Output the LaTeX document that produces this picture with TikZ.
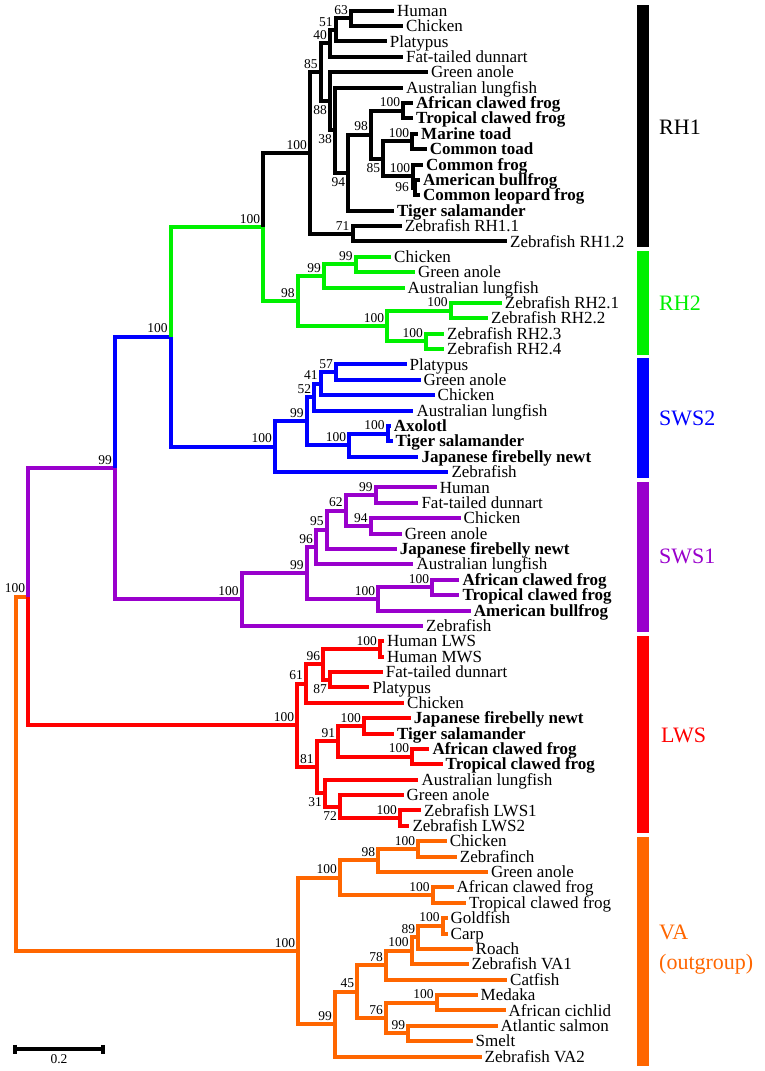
\documentclass[tikz,border=0pt]{standalone}
\usepackage{fontspec}
\setmainfont{Liberation Serif}
\definecolor{cgreen}{RGB}{0,240,0}
\definecolor{cblue}{RGB}{0,0,255}
\definecolor{cpurple}{RGB}{153,0,204}
\definecolor{cred}{RGB}{255,0,0}
\definecolor{corange}{RGB}{255,102,0}
\begin{document}
\begin{tikzpicture}[x=1pt,y=-1pt,
  br/.style={line width=4pt},
  kRH1/.style={br,draw=black},
  kRH2/.style={br,draw=cgreen},
  kSWS2/.style={br,draw=cblue},
  kSWS1/.style={br,draw=cpurple},
  kLWS/.style={br,draw=cred},
  kVA/.style={br,draw=corange},
  leaf/.style={anchor=west,inner xsep=3pt,inner ysep=0pt,text height=11.2pt,text depth=0pt,font=\fontsize{17}{17}\selectfont},
  leafb/.style={leaf,font=\fontsize{17}{17}\selectfont\bfseries},
  bsbase/.style={inner sep=0pt,font=\fontsize{13.5}{13.5}\selectfont},
  bs/.style={bsbase,anchor=south east,xshift=-3pt,yshift=3.5pt},
  bsb/.style={bsbase,anchor=north east,xshift=-3pt,yshift=-4.5pt},
  bsl/.style={bsbase,anchor=east,xshift=-6pt},
  grp/.style={anchor=west,inner sep=0pt,align=left,font=\fontsize{22}{30}\selectfont},
]
\useasboundingbox (0,0) rectangle (765,1071);

\begin{scope}[yshift=-10.7pt,y=-15.38pt]
% ---------- leaves ----------
\node[leaf] (l0) at (394,0) {Human};
\node[leaf] (l1) at (403,1) {Chicken};
\node[leaf] (l2) at (386.7,2) {Platypus};
\node[leaf] (l3) at (403,3) {Fat-tailed dunnart};
\node[leaf] (l4) at (428,4) {Green anole};
\node[leaf] (l5) at (403,5) {Australian lungfish};
\node[leafb] (l6) at (413,6) {African clawed frog};
\node[leafb] (l7) at (413,7) {Tropical clawed frog};
\node[leafb] (l8) at (418,8) {Marine toad};
\node[leafb] (l9) at (426.7,9) {Common toad};
\node[leafb] (l10) at (423,10) {Common frog};
\node[leafb] (l11) at (420,11) {American bullfrog};
\node[leafb] (l12) at (420,12) {Common leopard frog};
\node[leafb] (l13) at (394,13) {Tiger salamander};
\node[leaf] (l14) at (401.7,14) {Zebrafish RH1.1};
\node[leaf] (l15) at (507,15) {Zebrafish RH1.2};
\node[leaf] (l16) at (391,16) {Chicken};
\node[leaf] (l17) at (415,17) {Green anole};
\node[leaf] (l18) at (404.5,18) {Australian lungfish};
\node[leaf] (l19) at (501.7,19) {Zebrafish RH2.1};
\node[leaf] (l20) at (488,20) {Zebrafish RH2.2};
\node[leaf] (l21) at (444,21) {Zebrafish RH2.3};
\node[leaf] (l22) at (444,22) {Zebrafish RH2.4};
\node[leaf] (l23) at (406.5,23) {Platypus};
\node[leaf] (l24) at (420.5,24) {Green anole};
\node[leaf] (l25) at (434.5,25) {Chicken};
\node[leaf] (l26) at (413.3,26) {Australian lungfish};
\node[leafb] (l27) at (390.7,27) {Axolotl};
\node[leafb] (l28) at (392.5,28) {Tiger salamander};
\node[leafb] (l29) at (418.3,29) {Japanese firebelly newt};
\node[leaf] (l30) at (448.3,30) {Zebrafish};
\node[leaf] (l31) at (436.7,31) {Human};
\node[leaf] (l32) at (418.3,32) {Fat-tailed dunnart};
\node[leaf] (l33) at (460.5,33) {Chicken};
\node[leaf] (l34) at (401.7,34) {Green anole};
\node[leafb] (l35) at (396.7,35) {Japanese firebelly newt};
\node[leaf] (l36) at (413.3,36) {Australian lungfish};
\node[leafb] (l37) at (459.3,37) {African clawed frog};
\node[leafb] (l38) at (459.3,38) {Tropical clawed frog};
\node[leafb] (l39) at (470.7,39) {American bullfrog};
\node[leaf] (l40) at (423,40) {Zebrafish};
\node[leaf] (l41) at (384,41) {Human LWS};
\node[leaf] (l42) at (384,42) {Human MWS};
\node[leaf] (l43) at (382.7,43) {Fat-tailed dunnart};
\node[leaf] (l44) at (369.3,44) {Platypus};
\node[leaf] (l45) at (404,45) {Chicken};
\node[leafb] (l46) at (410.7,46) {Japanese firebelly newt};
\node[leafb] (l47) at (394,47) {Tiger salamander};
\node[leafb] (l48) at (429.3,48) {African clawed frog};
\node[leafb] (l49) at (442.5,49) {Tropical clawed frog};
\node[leaf] (l50) at (418.3,50) {Australian lungfish};
\node[leaf] (l51) at (403.5,51) {Green anole};
\node[leaf] (l52) at (421,52) {Zebrafish LWS1};
\node[leaf] (l53) at (409.3,53) {Zebrafish LWS2};
\node[leaf] (l54) at (446.7,54) {Chicken};
\node[leaf] (l55) at (456.7,55) {Zebrafinch};
\node[leaf] (l56) at (488,56) {Green anole};
\node[leaf] (l57) at (453.5,57) {African clawed frog};
\node[leaf] (l58) at (466,58) {Tropical clawed frog};
\node[leaf] (l59) at (447.5,59) {Goldfish};
\node[leaf] (l60) at (447.5,60) {Carp};
\node[leaf] (l61) at (472.5,61) {Roach};
\node[leaf] (l62) at (468.5,62) {Zebrafish VA1};
\node[leaf] (l63) at (507,63) {Catfish};
\node[leaf] (l64) at (477.5,64) {Medaka};
\node[leaf] (l65) at (505.5,65) {African cichlid};
\node[leaf] (l66) at (497.5,66) {Atlantic salmon};
\node[leaf] (l67) at (472.5,67) {Smelt};
\node[leaf] (l68) at (481.5,68) {Zebrafish VA2};

% ---------- internal nodes ----------
\coordinate (rt) at (16,49.615);
\coordinate (nA) at (28.3,38.1);
\coordinate (n99) at (115,29.74);
\coordinate (nB) at (170.7,21.2);
\coordinate (nRH) at (263.3,14.06);
% RH1
\coordinate (aRH1) at (310,9.252);
\coordinate (a85) at (320.7,4.004);
\coordinate (a40) at (330,2.125);
\coordinate (a51) at (335.7,1.25);
\coordinate (a63) at (351,0.5);
\coordinate (a88) at (330,5.883);
\coordinate (a38) at (335,7.766);
\coordinate (a94) at (348.3,10.53);
\coordinate (a98) at (371,8.0625);
\coordinate (aX) at (403.3,6.5);
\coordinate (a85b) at (383.3,9.625);
\coordinate (aT) at (412.3,8.5);
\coordinate (aF) at (413.3,10.75);
\coordinate (a96) at (415,11.5);
\coordinate (a71) at (352.5,14.5);
% RH2
\coordinate (bRH2) at (297.7,18.875);
\coordinate (b99b) at (324,17.25);
\coordinate (b99a) at (355.7,16.5);
\coordinate (b100c) at (387.3,20.5);
\coordinate (b100a) at (450.7,19.5);
\coordinate (b100b) at (426,21.5);
% SWS2
\coordinate (cS) at (275,28.34);
\coordinate (c99) at (306.7,26.6875);
\coordinate (c52) at (314.3,25.125);
\coordinate (c41) at (320.7,24.25);
\coordinate (c57) at (336,23.5);
\coordinate (c100b) at (349.3,28.25);
\coordinate (c100a) at (387.7,27.5);
% SWS1
\coordinate (dS) at (241.7,38.28);
\coordinate (d99b) at (306.7,36.5625);
\coordinate (d96) at (316,34.875);
\coordinate (d95) at (326.7,33.75);
\coordinate (d62) at (345.7,32.5);
\coordinate (d99) at (375.7,31.5);
\coordinate (d94) at (370.7,33.5);
\coordinate (d100) at (378.3,38.25);
\coordinate (dX) at (432.3,37.5);
% LWS
\coordinate (eL) at (297.3,46.47);
\coordinate (e61) at (306,43.75);
\coordinate (e96) at (323.3,42.5);
\coordinate (e100h) at (380,41.5);
\coordinate (e87) at (330,43.5);
\coordinate (e81) at (316.7,49.1875);
\coordinate (e91) at (338.3,47.5);
\coordinate (e100s) at (364,46.5);
\coordinate (e100x) at (412.3,48.5);
\coordinate (e31) at (325,50.875);
\coordinate (e72) at (340,51.75);
\coordinate (e100z) at (400,52.5);
% VA
\coordinate (fV) at (298.3,61.13);
\coordinate (f100t) at (340,56.375);
\coordinate (f98) at (378.3,55.25);
\coordinate (f100c) at (418.3,54.5);
\coordinate (f100x) at (432.7,57.5);
\coordinate (f99) at (335,65.89);
\coordinate (f45) at (357.3,63.78);
\coordinate (f78) at (386,62.0625);
\coordinate (f100) at (411.7,61.125);
\coordinate (f89) at (418.3,60.25);
\coordinate (f100g) at (442.7,59.5);
\coordinate (f76) at (386,65.5);
\coordinate (f100m) at (436.7,64.5);
\coordinate (f99s) at (408.3,66.5);

% ---------- branches ----------
% backbone
\draw[kVA] (rt) |- (nA);
\draw[kVA] (rt) |- (fV);
\draw[kSWS1] (nA) |- (n99);
\draw[kLWS] (nA) |- (eL);
\draw[kSWS2] (n99) |- (nB);
\draw[kSWS1] (n99) |- (dS);
\draw[kRH2] (nB) |- (nRH);
\draw[kSWS2] (nB) |- (cS);
\draw[kRH1] (nRH) |- (aRH1);
\draw[kRH2] (nRH) |- (bRH2);
% RH1
\draw[kRH1] (aRH1) |- (a85);
\draw[kRH1] (aRH1) |- (a71);
\draw[kRH1] (a85) |- (a40);
\draw[kRH1] (a85) |- (a88);
\draw[kRH1] (a40) |- (a51);
\draw[kRH1] (a40) |- (l3.west);
\draw[kRH1] (a51) |- (a63);
\draw[kRH1] (a51) |- (l2.west);
\draw[kRH1] (a63) |- (l0.west);
\draw[kRH1] (a63) |- (l1.west);
\draw[kRH1] (a88) |- (l4.west);
\draw[kRH1] (a88) |- (a38);
\draw[kRH1] (a38) |- (l5.west);
\draw[kRH1] (a38) |- (a94);
\draw[kRH1] (a94) |- (a98);
\draw[kRH1] (a94) |- (l13.west);
\draw[kRH1] (a98) |- (aX);
\draw[kRH1] (a98) |- (a85b);
\draw[kRH1] (aX) |- (l6.west);
\draw[kRH1] (aX) |- (l7.west);
\draw[kRH1] (a85b) |- (aT);
\draw[kRH1] (a85b) |- (aF);
\draw[kRH1] (aT) |- (l8.west);
\draw[kRH1] (aT) |- (l9.west);
\draw[kRH1] (aF) |- (l10.west);
\draw[kRH1] (aF) |- (a96);
\draw[kRH1] (a96) |- (l11.west);
\draw[kRH1] (a96) |- (l12.west);
\draw[kRH1] (a71) |- (l14.west);
\draw[kRH1] (a71) |- (l15.west);
% RH2
\draw[kRH2] (bRH2) |- (b99b);
\draw[kRH2] (bRH2) |- (b100c);
\draw[kRH2] (b99b) |- (b99a);
\draw[kRH2] (b99b) |- (l18.west);
\draw[kRH2] (b99a) |- (l16.west);
\draw[kRH2] (b99a) |- (l17.west);
\draw[kRH2] (b100c) |- (b100a);
\draw[kRH2] (b100c) |- (b100b);
\draw[kRH2] (b100a) |- (l19.west);
\draw[kRH2] (b100a) |- (l20.west);
\draw[kRH2] (b100b) |- (l21.west);
\draw[kRH2] (b100b) |- (l22.west);
% SWS2
\draw[kSWS2] (cS) |- (c99);
\draw[kSWS2] (cS) |- (l30.west);
\draw[kSWS2] (c99) |- (c52);
\draw[kSWS2] (c99) |- (c100b);
\draw[kSWS2] (c52) |- (c41);
\draw[kSWS2] (c52) |- (l26.west);
\draw[kSWS2] (c41) |- (c57);
\draw[kSWS2] (c41) |- (l25.west);
\draw[kSWS2] (c57) |- (l23.west);
\draw[kSWS2] (c57) |- (l24.west);
\draw[kSWS2] (c100b) |- (c100a);
\draw[kSWS2] (c100b) |- (l29.west);
\draw[kSWS2] (c100a) |- (l27.west);
\draw[kSWS2] (c100a) |- (l28.west);
% SWS1
\draw[kSWS1] (dS) |- (d99b);
\draw[kSWS1] (dS) |- (l40.west);
\draw[kSWS1] (d99b) |- (d96);
\draw[kSWS1] (d99b) |- (d100);
\draw[kSWS1] (d96) |- (d95);
\draw[kSWS1] (d96) |- (l36.west);
\draw[kSWS1] (d95) |- (d62);
\draw[kSWS1] (d95) |- (l35.west);
\draw[kSWS1] (d62) |- (d99);
\draw[kSWS1] (d62) |- (d94);
\draw[kSWS1] (d99) |- (l31.west);
\draw[kSWS1] (d99) |- (l32.west);
\draw[kSWS1] (d94) |- (l33.west);
\draw[kSWS1] (d94) |- (l34.west);
\draw[kSWS1] (d100) |- (dX);
\draw[kSWS1] (d100) |- (l39.west);
\draw[kSWS1] (dX) |- (l37.west);
\draw[kSWS1] (dX) |- (l38.west);
% LWS
\draw[kLWS] (eL) |- (e61);
\draw[kLWS] (eL) |- (e81);
\draw[kLWS] (e61) |- (e96);
\draw[kLWS] (e61) |- (l45.west);
\draw[kLWS] (e96) |- (e100h);
\draw[kLWS] (e96) |- (e87);
\draw[kLWS] (e100h) |- (l41.west);
\draw[kLWS] (e100h) |- (l42.west);
\draw[kLWS] (e87) |- (l43.west);
\draw[kLWS] (e87) |- (l44.west);
\draw[kLWS] (e81) |- (e91);
\draw[kLWS] (e81) |- (e31);
\draw[kLWS] (e91) |- (e100s);
\draw[kLWS] (e91) |- (e100x);
\draw[kLWS] (e100s) |- (l46.west);
\draw[kLWS] (e100s) |- (l47.west);
\draw[kLWS] (e100x) |- (l48.west);
\draw[kLWS] (e100x) |- (l49.west);
\draw[kLWS] (e31) |- (l50.west);
\draw[kLWS] (e31) |- (e72);
\draw[kLWS] (e72) |- (l51.west);
\draw[kLWS] (e72) |- (e100z);
\draw[kLWS] (e100z) |- (l52.west);
\draw[kLWS] (e100z) |- (l53.west);
% VA
\draw[kVA] (fV) |- (f100t);
\draw[kVA] (fV) |- (f99);
\draw[kVA] (f100t) |- (f98);
\draw[kVA] (f100t) |- (f100x);
\draw[kVA] (f98) |- (f100c);
\draw[kVA] (f98) |- (l56.west);
\draw[kVA] (f100c) |- (l54.west);
\draw[kVA] (f100c) |- (l55.west);
\draw[kVA] (f100x) |- (l57.west);
\draw[kVA] (f100x) |- (l58.west);
\draw[kVA] (f99) |- (f45);
\draw[kVA] (f99) |- (l68.west);
\draw[kVA] (f45) |- (f78);
\draw[kVA] (f45) |- (f76);
\draw[kVA] (f78) |- (f100);
\draw[kVA] (f78) |- (l63.west);
\draw[kVA] (f100) |- (f89);
\draw[kVA] (f100) |- (l62.west);
\draw[kVA] (f89) |- (f100g);
\draw[kVA] (f89) |- (l61.west);
\draw[kVA] (f100g) |- (l59.west);
\draw[kVA] (f100g) |- (l60.west);
\draw[kVA] (f76) |- (f100m);
\draw[kVA] (f76) |- (f99s);
\draw[kVA] (f100m) |- (l64.west);
\draw[kVA] (f100m) |- (l65.west);
\draw[kVA] (f99s) |- (l66.west);
\draw[kVA] (f99s) |- (l67.west);

% ---------- bootstrap values ----------
\node[bs] (bnA) at (nA) {100};
\node[bs] (bn99) at (n99) {99};
\node[bs] (bnB) at (nB) {100};
\node[bs] (bnRH) at (nRH) {100};
\node[bs] (baRH1) at (aRH1) {100};
\node[bs] (ba85) at (a85) {85};
\node[bs] (ba40) at (a40) {40};
\node[bs] (ba51) at (a51) {51};
\node[bs] (ba63) at (a63) {63};
\node[bsb] (ba88) at (a88) {88};
\node[bsb] (ba38) at (a38) {38};
\node[bsb] (ba94) at (a94) {94};
\node[bs] (ba98) at (a98) {98};
\node[bs] (baX) at (aX) {100};
\node[bsb] (ba85b) at (a85b) {85};
\node[bs] (baT) at (aT) {100};
\node[bs] (baF) at (aF) {100};
\node[bsl] (ba96) at (a96) {96};
\node[bs] (ba71) at (a71) {71};
\node[bs] (bbRH2) at (bRH2) {98};
\node[bs] (bb99b) at (b99b) {99};
\node[bs] (bb99a) at (b99a) {99};
\node[bs] (bb100c) at (b100c) {100};
\node[bs] (bb100a) at (b100a) {100};
\node[bs] (bb100b) at (b100b) {100};
\node[bs] (bcS) at (cS) {100};
\node[bs] (bc99) at (c99) {99};
\node[bs] (bc52) at (c52) {52};
\node[bs] (bc41) at (c41) {41};
\node[bs] (bc57) at (c57) {57};
\node[bs] (bc100b) at (c100b) {100};
\node[bs] (bc100a) at (c100a) {100};
\node[bs] (bdS) at (dS) {100};
\node[bs] (bd99b) at (d99b) {99};
\node[bs] (bd96) at (d96) {96};
\node[bs] (bd95) at (d95) {95};
\node[bs] (bd62) at (d62) {62};
\node[bs] (bd99) at (d99) {99};
\node[bs] (bd94) at (d94) {94};
\node[bs] (bd100) at (d100) {100};
\node[bs] (bdX) at (dX) {100};
\node[bs] (beL) at (eL) {100};
\node[bs] (be61) at (e61) {61};
\node[bs] (be96) at (e96) {96};
\node[bs] (be100h) at (e100h) {100};
\node[bsb] (be87) at (e87) {87};
\node[bs] (be81) at (e81) {81};
\node[bs] (be91) at (e91) {91};
\node[bs] (be100s) at (e100s) {100};
\node[bs] (be100x) at (e100x) {100};
\node[bsb] (be31) at (e31) {31};
\node[bsb] (be72) at (e72) {72};
\node[bs] (be100z) at (e100z) {100};
\node[bs] (bfV) at (fV) {100};
\node[bs] (bf100t) at (f100t) {100};
\node[bs] (bf98) at (f98) {98};
\node[bs] (bf100c) at (f100c) {100};
\node[bs] (bf100x) at (f100x) {100};
\node[bs] (bf99) at (f99) {99};
\node[bs] (bf45) at (f45) {45};
\node[bs] (bf78) at (f78) {78};
\node[bs] (bf100) at (f100) {100};
\node[bs] (bf89) at (f89) {89};
\node[bs] (bf100g) at (f100g) {100};
\node[bs] (bf76) at (f76) {76};
\node[bs] (bf100m) at (f100m) {100};
\node[bs] (bf99s) at (f99s) {99};
\end{scope}

% ---------- group bars and labels ----------
\fill[black] (636.7,5) rectangle (649.3,247.3);
\fill[cgreen] (636.7,250.7) rectangle (649.3,355);
\fill[cblue] (636.7,357.7) rectangle (649.3,478.3);
\fill[cpurple] (636.7,481.7) rectangle (649.3,632.3);
\fill[cred] (636.7,635.7) rectangle (649.3,833.3);
\fill[corange] (636.7,836.7) rectangle (649.3,1066);
\node[grp,text=black] (gRH1) at (659,127) {RH1};
\node[grp,text=cgreen] (gRH2) at (659,303) {RH2};
\node[grp,text=cblue] (gSWS2) at (659,418) {SWS2};
\node[grp,text=cpurple] (gSWS1) at (659,556) {SWS1};
\node[grp,text=cred] (gLWS) at (661,735) {LWS};
\node[grp,text=corange] (gVA) at (659,950) {VA\\(outgroup)};

% ---------- scale bar ----------
\coordinate (sb1) at (14.7,1049.3);
\coordinate (sb2) at (103.3,1049.3);
\draw[line width=4pt] (sb1) -- (sb2);
\draw[line width=4pt] ([yshift=4.5pt]sb1) -- ([yshift=-4.5pt]sb1);
\draw[line width=4pt] ([yshift=4.5pt]sb2) -- ([yshift=-4.5pt]sb2);
\node[bsbase,anchor=north] (sbl) at (59,1054.5) {0.2};
\end{tikzpicture}
\end{document}
